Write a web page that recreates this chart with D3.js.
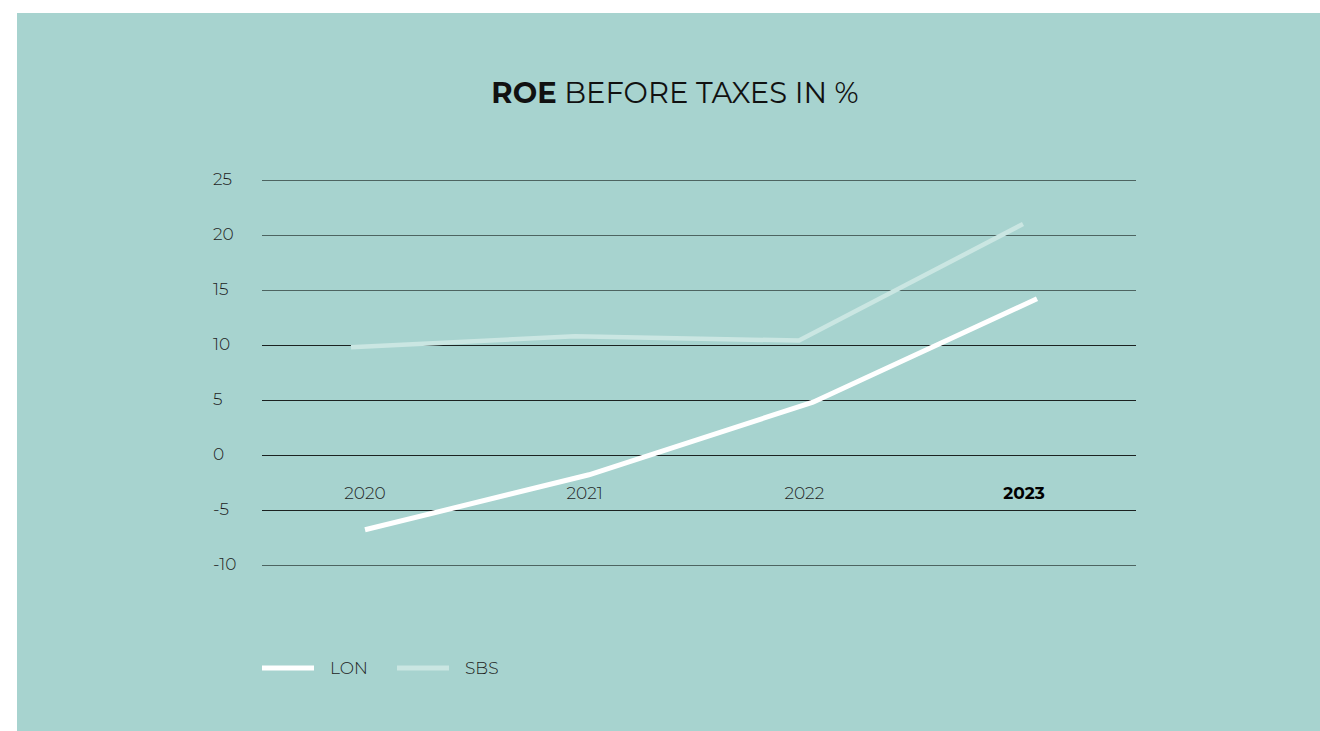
<!DOCTYPE html>
<html>
<head>
<meta charset="utf-8">
<script src="https://cdn.jsdelivr.net/npm/d3@7"></script>
<style>
  html, body { margin: 0; padding: 0; background: #ffffff; }
  svg { display: block; }
</style>
</head>
<body>
<svg id="chart" width="1320" height="731"></svg>
<script>
// ROE before taxes (%) by year
const years = ["2020", "2021", "2022", "2023"];
const lonValues = [-6.8, -1.8, 4.8, 14.2];
const sbsValues = [9.8, 10.8, 10.4, 21.0];
const yTicks = [25, 20, 15, 10, 5, 0, -5, -10];
const seriesNames = ["LON", "SBS"];

const svg = d3.select("#chart");
const font = "Montserrat, Lato, 'Noto Sans', sans-serif";

// Panel
svg.append("rect")
  .attr("x", 17).attr("y", 13)
  .attr("width", 1303).attr("height", 718)
  .attr("fill", "#a7d3cf");

// Title
const title = svg.append("text")
  .attr("x", 675).attr("y", 103)
  .attr("text-anchor", "middle")
  .attr("font-family", font)
  .attr("font-size", 29)
  .attr("fill", "#111");
title.append("tspan").attr("font-weight", 700).text("ROE");
title.append("tspan").attr("font-weight", 400).text(" BEFORE TAXES IN %");

// Scales
const y = d3.scaleLinear().domain([-10, 25]).range([565, 180]);
const xLabel = d3.scalePoint().domain(years).range([365, 1024]);
const xLine = d3.scalePoint().domain(years).range([358, 1030]);

// Grid lines
const grid = svg.append("g");
grid.selectAll("line")
  .data(yTicks)
  .join("line")
  .attr("x1", 262).attr("x2", 1136)
  .attr("y1", d => Math.round(y(d)) + 0.5)
  .attr("y2", d => Math.round(y(d)) + 0.5)
  .attr("stroke", d => (d >= 15 || d <= -10) ? "#4d6461" : "#1b2221")
  .attr("stroke-width", 1);

// Y tick labels
svg.append("g").selectAll("text")
  .data(yTicks)
  .join("text")
  .attr("x", 213)
  .attr("y", d => y(d) + 5)
  .attr("font-family", font)
  .attr("font-size", 17)
  .attr("font-weight", 300)
  .attr("fill", "#1e1e1e")
  .text(d => d);

// X labels, latest year in bold
svg.append("g").selectAll("text")
  .data(years)
  .join("text")
  .attr("x", d => xLabel(d))
  .attr("y", 499)
  .attr("text-anchor", "middle")
  .attr("font-family", font)
  .attr("font-size", 17)
  .attr("font-weight", (d, i) => i === years.length - 1 ? 700 : 300)
  .attr("fill", (d, i) => i === years.length - 1 ? "#000" : "#1e1e1e")
  .text(d => d);

// Lines
const series = [
  { name: seriesNames[0], values: lonValues, color: "#ffffff", width: 5, dx: 7 },
  { name: seriesNames[1], values: sbsValues, color: "#cae6e2", width: 4.5, dx: -7 }
];

// Draw SBS beneath LON
[series[1], series[0]].forEach(s => {
  const line = d3.line()
    .x((d, i) => xLine(years[i]) + s.dx)
    .y(d => y(d));
  svg.append("path")
    .datum(s.values)
    .attr("d", line)
    .attr("fill", "none")
    .attr("stroke", s.color)
    .attr("stroke-width", s.width)
    .attr("stroke-linejoin", "miter");
});

// Legend
const legend = svg.append("g");
series.forEach((s, i) => {
  const x0 = 262 + i * 135;
  legend.append("line")
    .attr("x1", x0).attr("x2", x0 + 52)
    .attr("y1", 668).attr("y2", 668)
    .attr("stroke", s.color)
    .attr("stroke-width", 5);
  legend.append("text")
    .attr("x", x0 + 68).attr("y", 674)
    .attr("font-family", font)
    .attr("font-size", 17)
    .attr("font-weight", 300)
    .attr("fill", "#1e1e1e")
    .text(s.name);
});
</script>
</body>
</html>
